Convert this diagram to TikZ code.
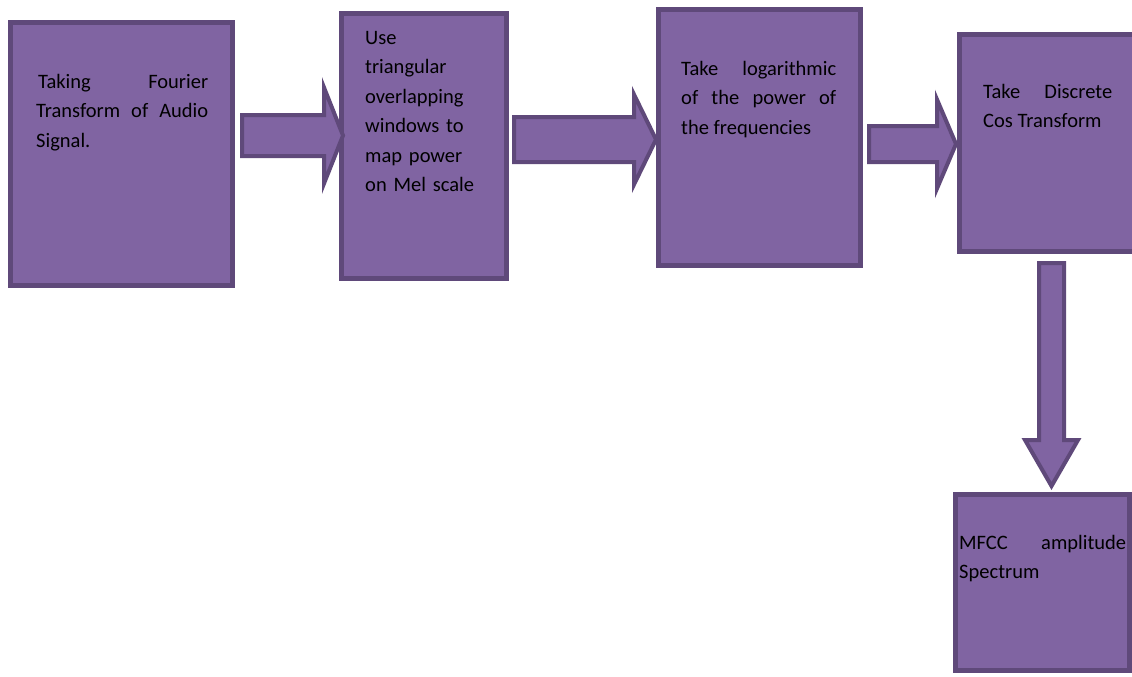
\documentclass[tikz,border=0pt]{standalone}
\usepackage{fontspec}
\setmainfont{Carlito}
\usetikzlibrary{calc}
\definecolor{boxfill}{HTML}{8064A2}
\definecolor{boxline}{HTML}{5F497A}

\begin{document}
\begin{tikzpicture}[x=1pt,y=-1pt,
  stage/.style={draw=boxline,fill=boxfill,line width=5pt,rectangle,inner sep=0pt},
  stagetext/.style={anchor=north west,inner sep=0pt,align=justify,
    font=\fontsize{20.5}{29.5}\selectfont},
  blockarrow/.style={draw=boxline,fill=boxfill,line width=4pt,line join=miter}]
\useasboundingbox (0,0) rectangle (1132,677);
% the five stages
\node[stage,minimum width=222pt,minimum height=263pt] (fourier) at (121.5,154) {};
\node[stage,minimum width=165pt,minimum height=265pt] (melscale) at (424,146) {};
\node[stage,minimum width=202pt,minimum height=256pt] (logpower) at (759.5,137.5) {};
\node[stage,minimum width=176.5pt,minimum height=217pt] (dct) at (1047.75,143) {};
\node[stage,minimum width=174pt,minimum height=176pt] (mfcc) at (1042.5,582.5) {};
% texts
\node[stagetext,text width=172pt] (fouriertext) at (36,67.2)
  {\strut\hspace*{2pt}Taking Fourier\linebreak Transform of Audio\linebreak Signal.};
\node[stagetext,text width=125pt,align=left] (meltext) at (365,23.5)
  {\strut Use\\triangular\\overlapping\\windows to\\map power\\on Mel scale};
\node[stagetext,text width=155pt] (logtext) at (681,54.5)
  {\strut Take logarithmic\linebreak of the power of\linebreak the frequencies};
\node[stagetext,text width=129pt] (dcttext) at (983,77.5)
  {\strut Take Discrete\linebreak Cos Transform};
\node[stagetext,text width=167pt] (mfcctext) at (959,528.5)
  {\strut MFCC amplitude\linebreak Spectrum};
% block arrows
\coordinate (a1) at ($(fourier.east |- 0,135.5)+(7,0)$);
\coordinate (a2) at ($(melscale.east |- 0,139.5)+(5,0)$);
\coordinate (a3) at ($(logpower.east |- 0,144)+(6,0)$);
\coordinate (a4) at ($(dct.south -| 1051.5,0)+(0,9)$);
\draw[blockarrow,shift={(a1)}] (0,-20.5) -- (82,-20.5) -- (82,-48) -- (101,0)
  -- (82,48) -- (82,20.5) -- (0,20.5) -- cycle;
\draw[blockarrow,shift={(a2)}] (0,-22.5) -- (120,-22.5) -- (120,-45) -- (142,0)
  -- (120,45) -- (120,22.5) -- (0,22.5) -- cycle;
\draw[blockarrow,shift={(a3)}] (0,-18) -- (68,-18) -- (68,-44.5) -- (87,0)
  -- (68,44.5) -- (68,18) -- (0,18) -- cycle;
\draw[blockarrow,shift={(a4)}] (-12.5,0) -- (-12.5,177) -- (-26.5,177) -- (0,223)
  -- (26.5,177) -- (12.5,177) -- (12.5,0) -- cycle;
\end{tikzpicture}
\end{document}
